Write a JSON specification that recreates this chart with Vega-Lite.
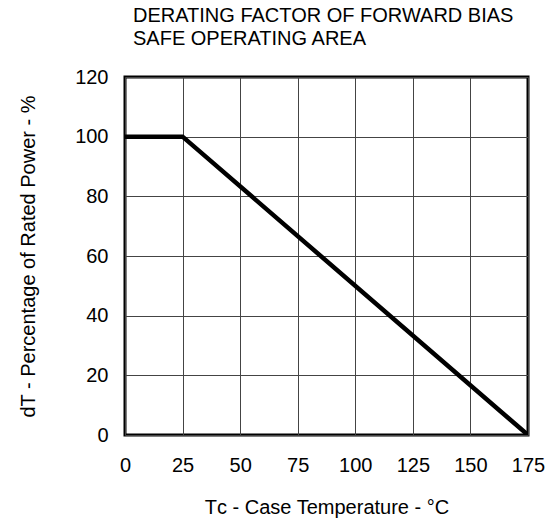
{
  "$schema": "https://vega.github.io/schema/vega-lite/v6.json",
  "width": 403,
  "height": 358,
  "autosize": "none",
  "padding": {"left": 125, "top": 77, "right": 21, "bottom": 90},
  "background": "white",
  "title": {
    "text": ["DERATING FACTOR OF FORWARD BIAS", "SAFE OPERATING AREA"],
    "anchor": "start",
    "frame": "group",
    "dx": 8,
    "font": "Liberation Sans",
    "fontSize": 20,
    "fontWeight": "normal",
    "color": "black",
    "lineHeight": 23,
    "offset": 18
  },
  "config": {
    "view": {"stroke": "black", "strokeWidth": 3},
    "axis": {
      "labelFont": "Liberation Sans",
      "titleFont": "Liberation Sans",
      "labelFontSize": 20,
      "titleFontSize": 20,
      "titleFontWeight": "normal",
      "labelColor": "black",
      "titleColor": "black",
      "grid": true,
      "gridColor": "#444444",
      "gridWidth": 1,
      "gridOpacity": 1,
      "ticks": false,
      "domain": false,
      "labelFlush": false
    }
  },
  "data": {
    "values": [
      {"t": 0, "p": 100},
      {"t": 25, "p": 100},
      {"t": 175, "p": 0}
    ]
  },
  "mark": {"type": "line", "color": "black", "strokeWidth": 4.5, "clip": true},
  "encoding": {
    "x": {
      "field": "t",
      "type": "quantitative",
      "scale": {"domain": [0, 175], "nice": false},
      "axis": {
        "values": [0, 25, 50, 75, 100, 125, 150, 175],
        "labelPadding": 20,
        "title": "Tᴄ - Case Temperature - °C",
        "titlePadding": 22
      }
    },
    "y": {
      "field": "p",
      "type": "quantitative",
      "scale": {"domain": [0, 120], "nice": false},
      "axis": {
        "values": [0, 20, 40, 60, 80, 100, 120],
        "labelPadding": 17,
        "title": "dT - Percentage of Rated Power - %",
        "titlePadding": 36
      }
    }
  }
}
